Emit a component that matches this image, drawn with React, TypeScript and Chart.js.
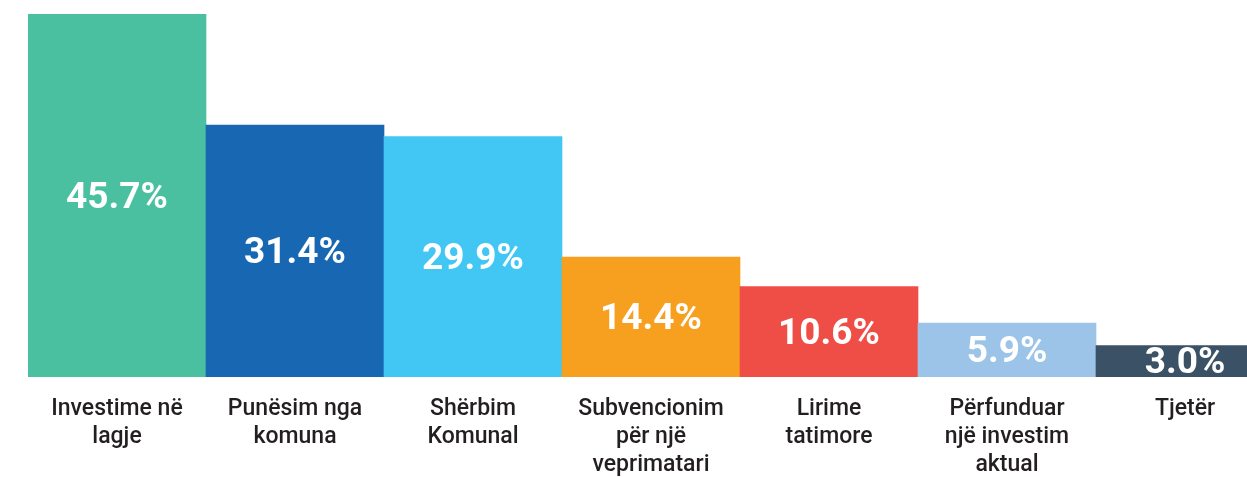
import React, { useEffect, useRef } from "react";
import { Chart, registerables } from "chart.js";

Chart.register(...registerables);

const categories: string[][] = [
  ["Investime në", "lagje"],
  ["Punësim nga", "komuna"],
  ["Shërbim", "Komunal"],
  ["Subvencionim", "për një", "veprimatari"],
  ["Lirime", "tatimore"],
  ["Përfunduar", "një investim", "aktual"],
  ["Tjetër"],
];
const values: number[] = [45.7, 31.4, 29.9, 14.4, 10.6, 5.9, 3.0];
const barColors: string[] = ["#4BC0A0", "#1767B3", "#42C6F3", "#F7A01F", "#EF4E47", "#9CC3E8", "#3B5166"];
const axisMin = -1.06;
const axisMax = 45.7;

const valueLabels = {
  id: "valueLabels",
  afterDatasetsDraw(chart: any) {
    const ctx = chart.ctx;
    const meta = chart.getDatasetMeta(0);
    ctx.save();
    ctx.fillStyle = "#ffffff";
    ctx.font = "bold 37px Roboto";
    ctx.textAlign = "center";
    ctx.textBaseline = "middle";
    meta.data.forEach((bar: any, i: number) => {
      const cy = (bar.y + bar.base) / 2;
      ctx.fillText(values[i].toFixed(1) + "%", bar.x, cy + 3);
    });
    ctx.restore();
  },
};

export default function App() {
  const ref = useRef<HTMLCanvasElement>(null);
  useEffect(() => {
    if (!ref.current) return;
    const chart = new Chart(ref.current, {
      type: "bar",
      data: {
        labels: categories,
        datasets: [
          {
            data: values,
            backgroundColor: barColors,
            borderWidth: 0,
            base: axisMin,
            categoryPercentage: 1,
            barPercentage: 1,
          } as any,
        ],
      },
      options: {
        responsive: false,
        animation: false,
        devicePixelRatio: 1,
        layout: { padding: { top: 14, left: 28, right: 16, bottom: 0 } },
        plugins: { legend: { display: false }, tooltip: { enabled: false } },
        scales: {
          x: {
            grid: { display: false, drawTicks: false },
            border: { display: false },
            ticks: {
              color: "#231F20",
              font: { family: "Roboto", size: 23, weight: "500", lineHeight: 28 / 23 },
              padding: 18,
              maxRotation: 0,
              autoSkip: false,
            },
            afterFit(scale: any) {
              scale.height = 100;
            },
          },
          y: {
            display: false,
            min: axisMin,
            max: axisMax,
          },
        },
      },
      plugins: [valueLabels],
    });
    return () => chart.destroy();
  }, []);
  return (
    <div style={{ position: "fixed", left: 0, top: 0, width: 1247, height: 477, overflow: "hidden", background: "#fff" }}>
      <canvas ref={ref} width={1290} height={477} style={{ display: "block" }} />
    </div>
  );
}
